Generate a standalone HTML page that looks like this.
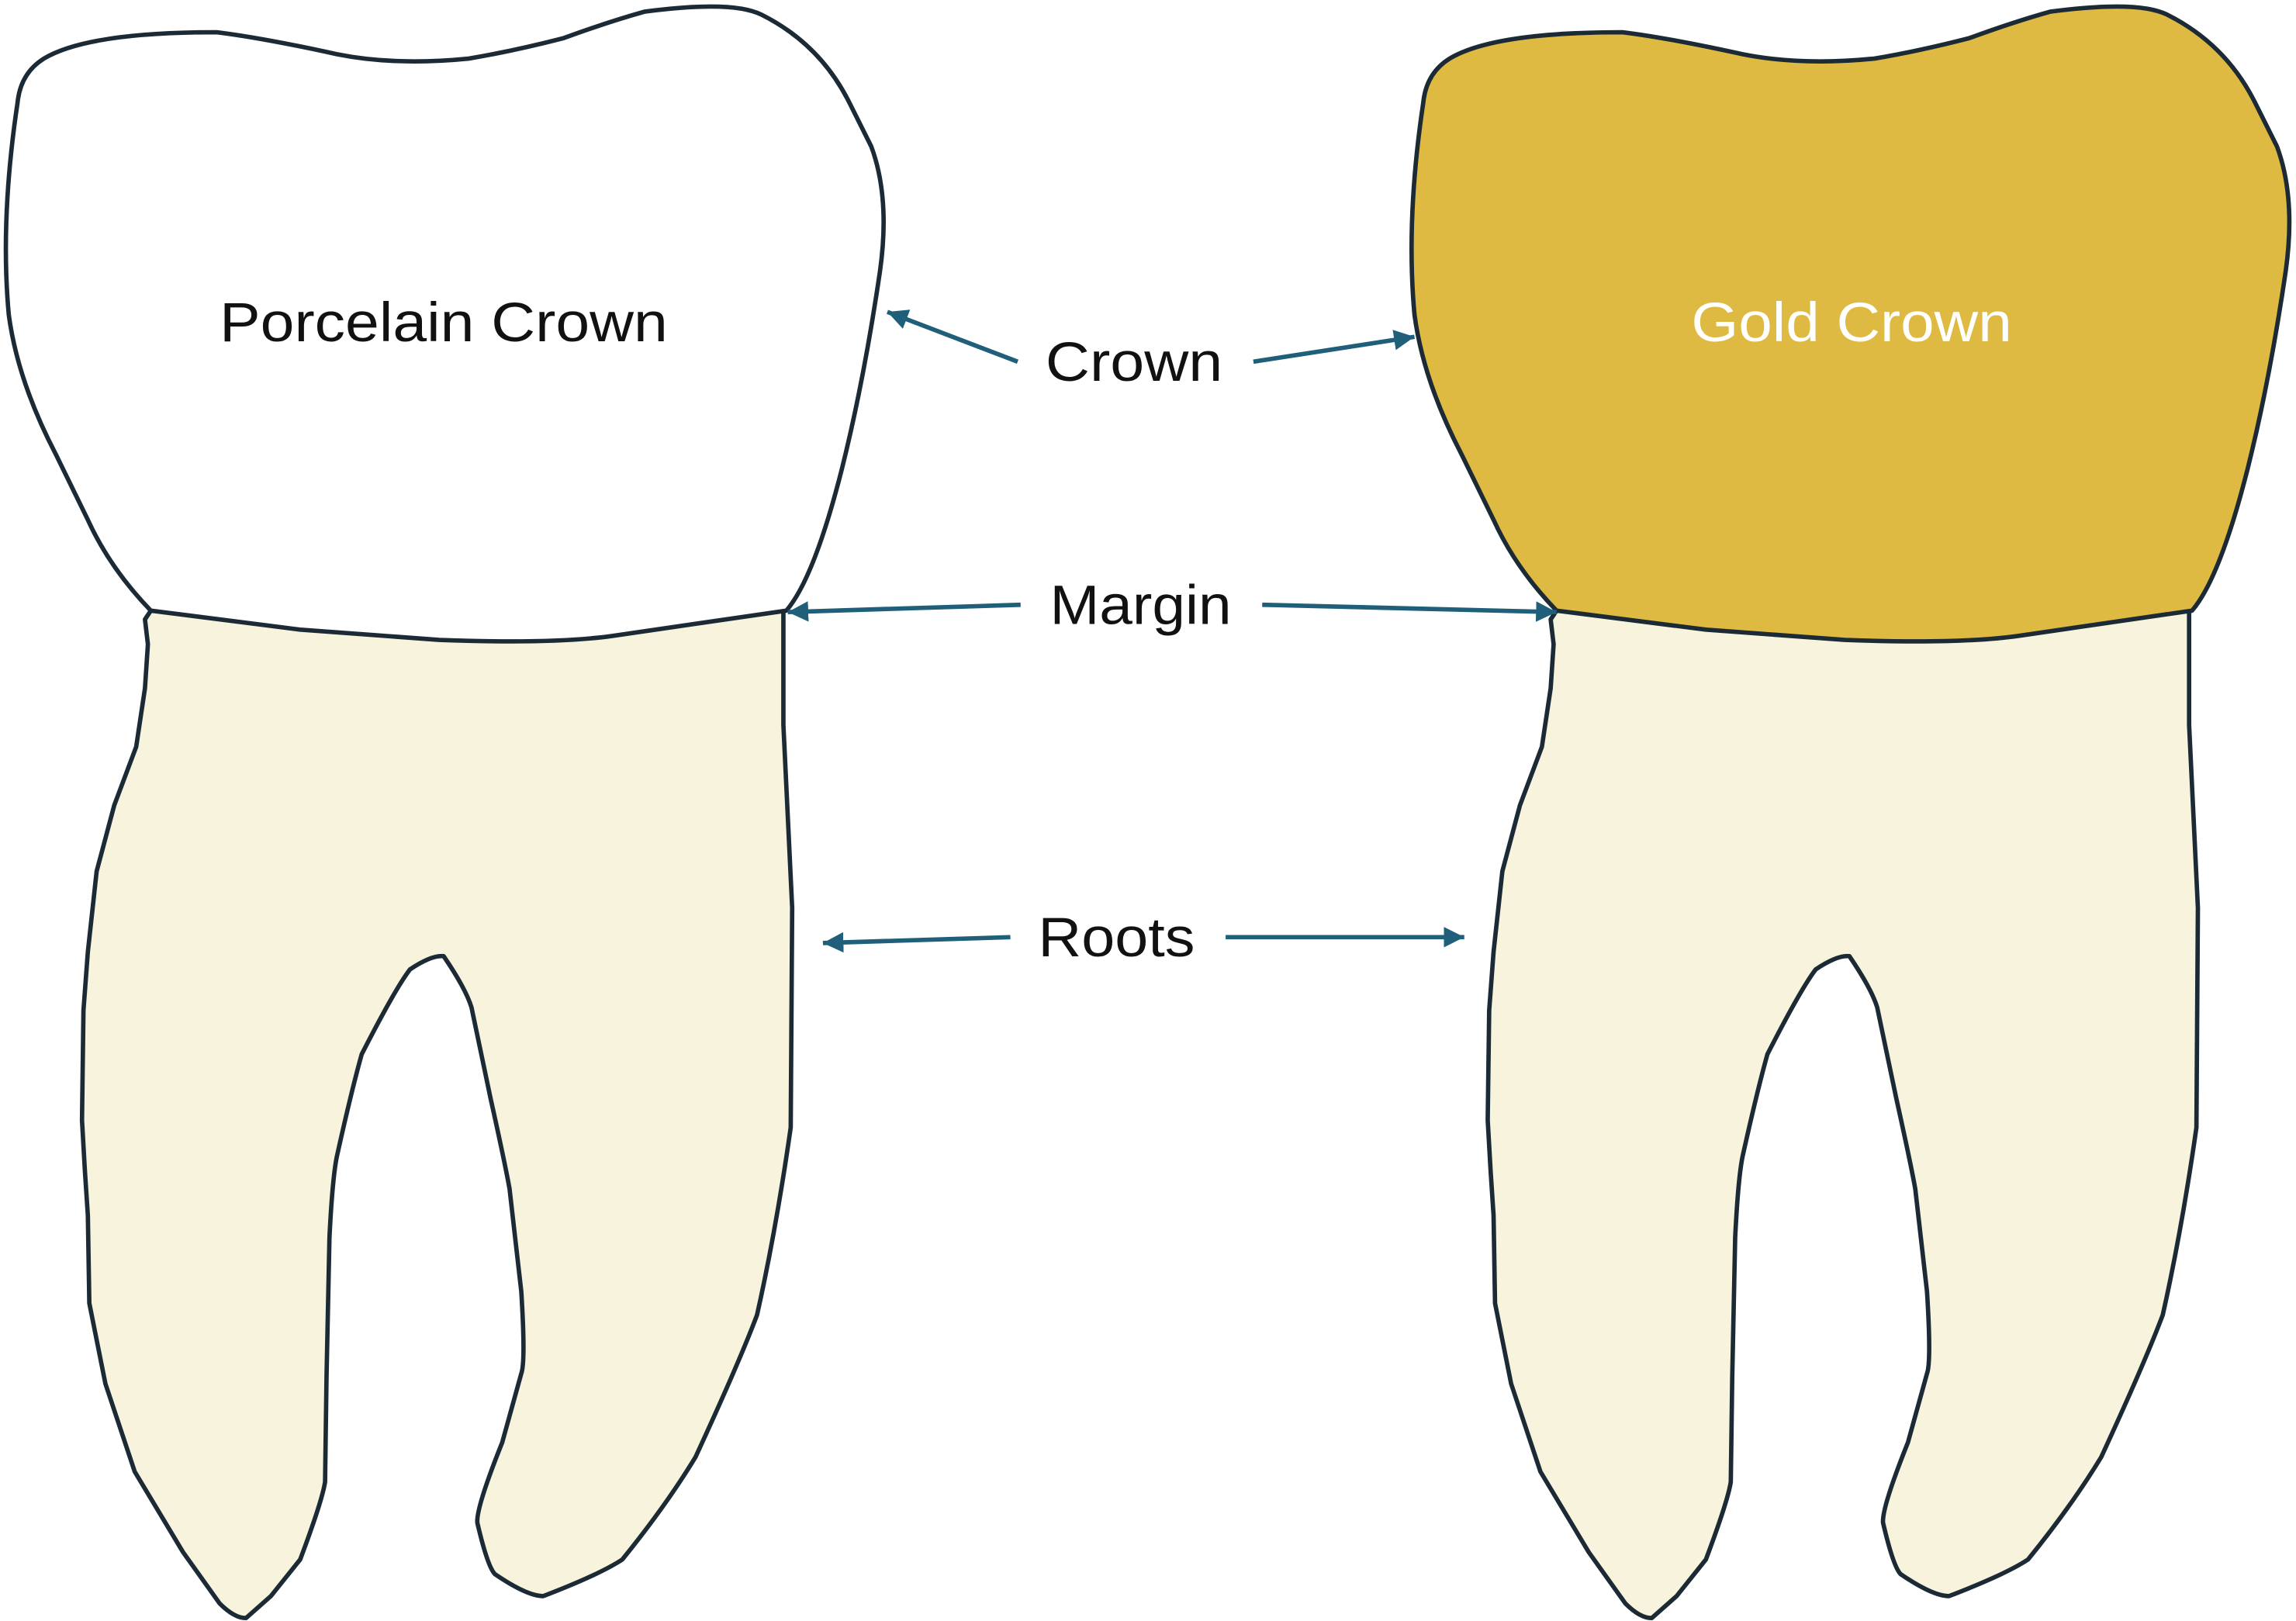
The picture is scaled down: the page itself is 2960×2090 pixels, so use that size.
<!DOCTYPE html>
<html><head><meta charset="utf-8"><style>
html,body{margin:0;padding:0;background:#fff;}
svg{display:block;}
text{font-family:"Liberation Sans",sans-serif;}
</style></head><body>
<svg width="2960" height="2090" viewBox="0 0 1568 1107" preserveAspectRatio="none" xmlns="http://www.w3.org/2000/svg">
<defs>
<marker id="ah" markerWidth="14" markerHeight="14" refX="10" refY="5" orient="auto" markerUnits="userSpaceOnUse" viewBox="0 0 10 10">
<path d="M0,0 L10,5 L0,10 Z" fill="#1f5f7a"/>
</marker>
<g id="root">
<path d="M103,417 L99,423 L101,440 L99,470 L93,510 L78,550 L66,595 L60,650 L57,690 L56,765 L58,800 L60,830 L61,890 L72,945 L92,1005 L125,1060 L150,1095 Q160,1105 168,1105 L185,1090 L205,1065 Q220,1025 222,1012 L223,940 L225,845 Q227,805 230,790 Q240,745 247,720 Q270,675 280,662 Q295,652 303,653 Q318,675 322,688 L335,750 Q345,795 348,812 L356,882 Q359,930 356,938 L343,985 Q325,1030 326,1040 Q333,1070 338,1075 Q360,1090 371,1090 Q410,1075 425,1065 Q455,1028 475,995 Q505,930 517,898 Q530,840 540,770 L541,620 L535,495 L535,417 Z" fill="#f7f3dc" stroke="#1b2a35" stroke-width="3" stroke-linejoin="round"/>
</g>
<path id="crown" d="M103,417 Q75,388 60,355 L38,310 Q12,260 6,215 Q0,150 12,70 Q14,50 30,40 Q60,22 148,22 Q180,26 230,37 Q270,45 320,40 Q350,35 385,26 Q415,15 440,8 Q500,0 520,10 Q560,30 580,70 L595,100 Q608,135 601,185 Q590,260 575,320 Q556,395 537,417 L420,434 Q380,440 300,437 L205,430 Z" stroke="#1b2a35" stroke-width="3" stroke-linejoin="round"/>
</defs>
<use href="#root"/>
<use href="#crown" fill="#ffffff"/>
<g transform="translate(960,0)">
<use href="#root"/>
<use href="#crown" fill="#dfba42"/>
</g>
<text x="150" y="233" font-size="38" textLength="306" lengthAdjust="spacingAndGlyphs" fill="#111">Porcelain Crown</text>
<text x="1155" y="233" font-size="38" textLength="219" lengthAdjust="spacingAndGlyphs" fill="#ffffff">Gold Crown</text>
<text x="714" y="260" font-size="38" textLength="121" lengthAdjust="spacingAndGlyphs" fill="#111">Crown</text>
<text x="717" y="426" font-size="38" textLength="124" lengthAdjust="spacingAndGlyphs" fill="#111">Margin</text>
<text x="709" y="653" font-size="38" textLength="107" lengthAdjust="spacingAndGlyphs" fill="#111">Roots</text>
<g stroke="#1f5f7a" stroke-width="3" marker-end="url(#ah)">
<line x1="695" y1="247" x2="606" y2="213"/>
<line x1="856" y1="247" x2="966" y2="230"/>
<line x1="697" y1="413" x2="538" y2="418"/>
<line x1="862" y1="413" x2="1063" y2="418"/>
<line x1="690" y1="640" x2="562" y2="644"/>
<line x1="837" y1="640" x2="1000" y2="640"/>
</g>
</svg>
</body></html>
